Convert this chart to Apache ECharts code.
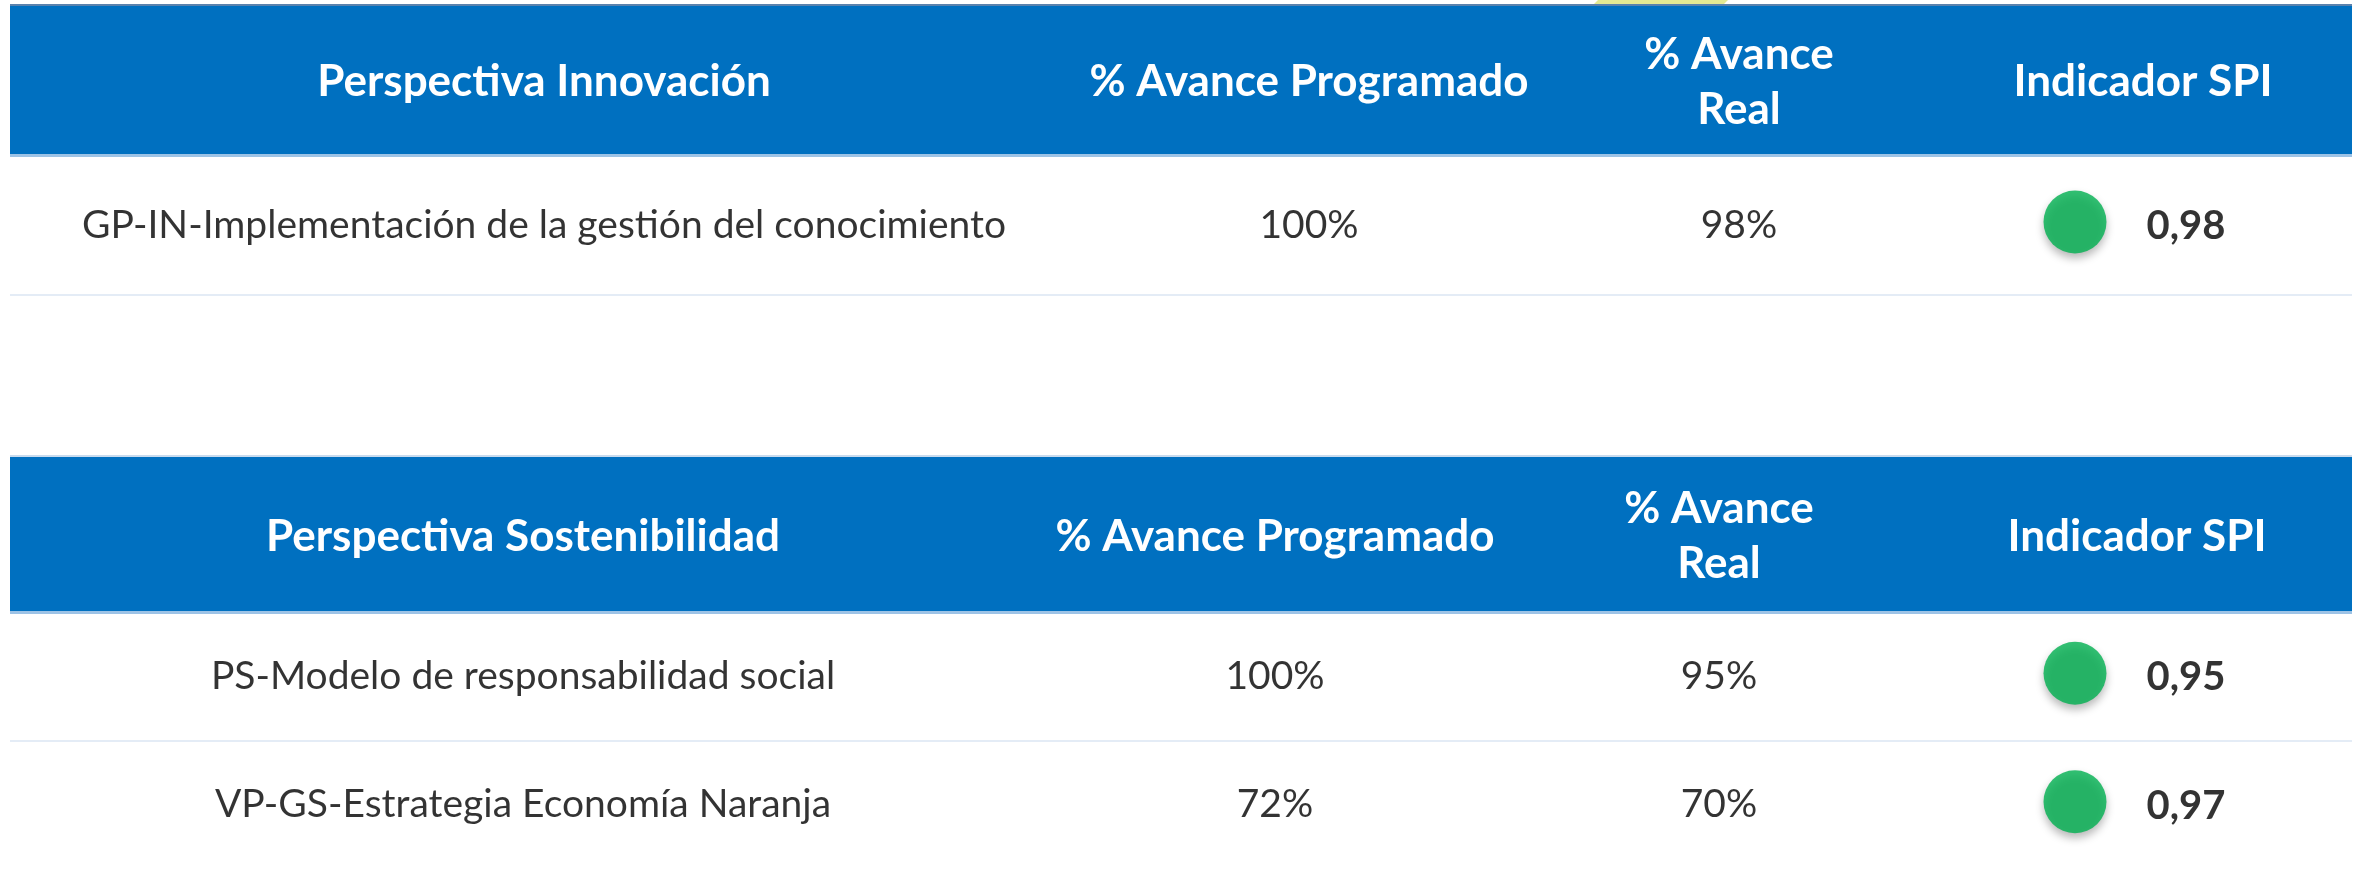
<!DOCTYPE html>
<html>
<head>
<meta charset="utf-8">
<title>Indicador SPI</title>
<script src="https://cdn.jsdelivr.net/npm/echarts@6/dist/echarts.min.js"></script>
<style>
  html, body { margin: 0; padding: 0; background: #ffffff; }
  #main { width: 2363px; height: 869px; }
</style>
</head>
<body>
<div id="main"></div>
<script>
// datos - tabla superior
const topHeaders = ["Perspectiva Innovación", "% Avance Programado", "% Avance\nReal", "Indicador SPI"];
const topCategories = ["GP-IN-Implementación de la gestión del conocimiento"];
const topProgramado = [100];
const topReal = [98];
const topSpi = [0.98];

// datos - tabla inferior
const bottomHeaders = ["Perspectiva Sostenibilidad", "% Avance Programado", "% Avance\nReal", "Indicador SPI"];
const bottomCategories = ["PS-Modelo de responsabilidad social", "VP-GS-Estrategia Economía Naranja"];
const bottomProgramado = [100, 72];
const bottomReal = [95, 70];
const bottomSpi = [0.95, 0.97];

// layout (centros de columna en px)
const topCols = [544, 1309, 1739, 2143];
const bottomCols = [523, 1275, 1719, 2137];
const circleX = 2075;

const BLUE = "#0070c0";
const GREEN = "#00b050";
const FONT = "Lato";

const chart = echarts.init(document.getElementById("main"));

function fmtSpi(v) {
  return v.toFixed(2).replace(".", ",");
}

// texto sin marcador
function textSeries(idx, points, fmt, bold) {
  return {
    type: "scatter",
    xAxisIndex: idx,
    yAxisIndex: idx,
    symbolSize: 1,
    itemStyle: { color: "rgba(0,0,0,0)" },
    silent: true,
    data: points,
    label: {
      show: true,
      position: "inside",
      color: "#000",
      fontFamily: FONT,
      fontSize: 39,
      fontWeight: bold ? "bold" : "normal",
      formatter: fmt
    }
  };
}

function tableSeries(idx, cols, cats, prog, real, spi) {
  return [
    textSeries(idx, cats.map(c => [cols[0], c]), p => p.value[1]),
    textSeries(idx, cats.map((c, i) => [cols[1], c, prog[i]]), p => p.value[2] + "%"),
    textSeries(idx, cats.map((c, i) => [cols[2], c, real[i]]), p => p.value[2] + "%"),
    {
      type: "scatter",
      xAxisIndex: idx,
      yAxisIndex: idx,
      symbol: "circle",
      symbolSize: 63,
      symbolOffset: [0, -3],
      data: cats.map((c, i) => [circleX, c, spi[i]]),
      itemStyle: {
        color: GREEN,
        shadowBlur: 8,
        shadowColor: "rgba(0,0,0,0.35)",
        shadowOffsetY: 5
      },
      label: {
        show: true,
        position: "right",
        distance: 40,
        color: "#000",
        fontFamily: FONT,
        fontSize: 40,
        fontWeight: "bold",
        offset: [0, 4],
        formatter: p => fmtSpi(p.value[2])
      }
    }
  ];
}

function headerGraphics(headers, cols, y0, y1) {
  const g = [
    { type: "rect", shape: { x: 10, y: y0, width: 2342, height: y1 - y0 }, style: { fill: BLUE }, z: 10 },
    { type: "rect", shape: { x: 10, y: y1 - 1, width: 2342, height: 3 }, style: { fill: "#9dc3e6" }, z: 11 }
  ];
  headers.forEach((h, i) => {
    g.push({
      type: "text",
      x: cols[i],
      y: (y0 + y1) / 2 + 2,
      z: 12,
      style: {
        text: h,
        fill: "#fff",
        font: "bold 44px " + FONT,
        lineHeight: 55,
        textAlign: "center",
        textVerticalAlign: "middle"
      }
    });
  });
  return g;
}

const hiddenX = { type: "value", min: 10, max: 2352, show: false };
const yCat = (cats, showMax) => ({
  type: "category",
  data: cats,
  inverse: true,
  axisLine: { show: false },
  axisTick: { show: false },
  axisLabel: { show: false },
  splitLine: { show: true, showMaxLine: showMax, lineStyle: { color: "#e4ecf6", width: 2 } }
});

chart.setOption({
  backgroundColor: "#ffffff",
  animation: false,
  grid: [
    { left: 10, right: 11, top: 155, height: 140 },
    { left: 10, right: 11, top: 612, height: 262 }
  ],
  xAxis: [Object.assign({ gridIndex: 0 }, hiddenX), Object.assign({ gridIndex: 1 }, hiddenX)],
  yAxis: [
    Object.assign({ gridIndex: 0 }, yCat(topCategories, true)),
    Object.assign({ gridIndex: 1 }, yCat(bottomCategories, false))
  ],
  graphic: [
    // mancha amarilla arriba
    { type: "polygon", shape: { points: [[1598, 0], [1728, 0], [1722, 6], [1592, 6]] }, style: { fill: "#e3e993" }, z: 5 },
    { type: "rect", shape: { x: 10, y: 4, width: 2342, height: 2 }, style: { fill: "#5a82ad" }, z: 11 },
    { type: "rect", shape: { x: 10, y: 455, width: 2342, height: 2 }, style: { fill: "#c9dbee" }, z: 11 }
  ].concat(headerGraphics(topHeaders, topCols, 5, 155))
   .concat(headerGraphics(bottomHeaders, bottomCols, 457, 612)),
  series: tableSeries(0, topCols, topCategories, topProgramado, topReal, topSpi)
    .concat(tableSeries(1, bottomCols, bottomCategories, bottomProgramado, bottomReal, bottomSpi))
});
</script>
</body>
</html>
